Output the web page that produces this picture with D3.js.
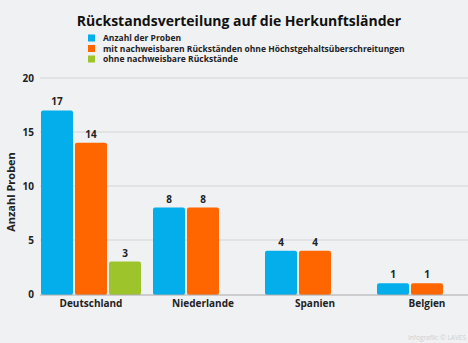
<!DOCTYPE html>
<html><head><meta charset="utf-8">
<script src="https://cdn.jsdelivr.net/npm/d3@7"></script>
<style>
html,body{margin:0;padding:0;background:#f0f1f3;}
svg{display:block;font-family:"Open Sans",sans-serif;}
</style></head>
<body><svg id="c" width="468" height="343"></svg>
<script>
const categories = ["Deutschland","Niederlande","Spanien","Belgien"];
const seriesNames = ["Anzahl der Proben","mit nachweisbaren Rückständen ohne Höchstgehaltsüberschreitungen","ohne nachweisbare Rückstände"];
const anzahl = [17, 8, 4, 1];
const mitRueck = [14, 8, 4, 1];
const ohneRueck = [3, null, null, null];
const yTicks = [0, 5, 10, 15, 20];
const colors = ["#03aeea", "#ff6600", "#9ec42c"];

const svg = d3.select("#c");
const W = 468, H = 343;
const x0 = d3.scaleBand().domain(categories).range([41, 489]).padding(0);
const x1 = d3.scaleBand().domain([0,1,2]).range([0, 102]).padding(0);
const y = d3.scaleLinear().domain([0, 20]).range([294, 78]);

// gridlines
svg.append("g").selectAll("line").data(yTicks.filter(d=>d>0)).join("line")
  .attr("x1", 40).attr("x2", W).attr("y1", d=>y(d)).attr("y2", d=>y(d))
  .attr("stroke", "#d3d4d6").attr("stroke-width", 1);

// y axis labels
const yAxis = d3.axisLeft(y).tickValues(yTicks).tickSize(0).tickPadding(0);
const ga = svg.append("g").attr("transform", "translate(34,0)").call(yAxis);
ga.select(".domain").remove();
ga.selectAll("text").attr("font-size", 10).attr("font-weight", 700).attr("fill", "#222").attr("font-family", "Open Sans");

// bars
const series = [anzahl, mitRueck, ohneRueck];
const data = [];
categories.forEach((c, i) => series.forEach((s, j) => { if (s[i] != null) data.push({c, j, v: s[i]}); }));
const bw = x1.bandwidth() - 2;
svg.append("g").selectAll("rect").data(data).join("rect")
  .attr("x", d => x0(d.c) + x1(d.j))
  .attr("y", d => y(d.v))
  .attr("width", bw)
  .attr("height", d => y(0) - y(d.v) + 1)
  .attr("rx", 2)
  .attr("fill", d => colors[d.j]);

svg.append("g").selectAll("text").data(data).join("text")
  .attr("x", d => x0(d.c) + x1(d.j) + bw/2)
  .attr("y", d => y(d.v) - 5)
  .attr("text-anchor", "middle")
  .attr("font-size", 10).attr("font-weight", 700).attr("fill", "#222")
  .text(d => d.v);

// zero line
svg.append("line").attr("x1", 40).attr("x2", W).attr("y1", y(0)+1).attr("y2", y(0)+1)
  .attr("stroke", "#a9aaac").attr("stroke-width", 1.2);

// x axis labels (centred on the three-slot group)
const xAxis = d3.axisBottom(x0).tickSize(0).tickPadding(0);
const gx = svg.append("g").attr("transform", `translate(${51 - x0.bandwidth()/2 - 1},300)`).call(xAxis);
gx.select(".domain").remove();
gx.selectAll("text").attr("font-size", 10).attr("font-weight", 700).attr("fill", "#222").attr("font-family", "Open Sans");

// y axis title
svg.append("text").attr("transform", "translate(15,192) rotate(-90)")
  .attr("text-anchor", "middle").attr("font-size", 11).attr("font-weight", 700).attr("fill", "#222")
  .text("Anzahl Proben");

// title
svg.append("text").attr("x", 239).attr("y", 26).attr("text-anchor", "middle")
  .attr("font-size", 14).attr("font-weight", 700).attr("fill", "#111")
  .text("Rückstandsverteilung auf die Herkunftsländer");

// legend
const lg = svg.append("g").selectAll("g").data(seriesNames).join("g")
  .attr("transform", (d, i) => `translate(88,${34.5 + i*10.5})`);
lg.append("rect").attr("width", 7).attr("height", 7).attr("fill", (d,i)=>colors[i]);
lg.append("text").attr("x", 15).attr("y", 6.5).attr("font-size", 8.5).attr("font-weight", 700).attr("fill", "#222").text(d=>d);

// source watermark
svg.append("text").attr("x", 466).attr("y", 340).attr("text-anchor", "end")
  .attr("font-size", 6.5).attr("fill", "#cfd0d2").text("Infografik: © LAVES");
</script></body></html>
